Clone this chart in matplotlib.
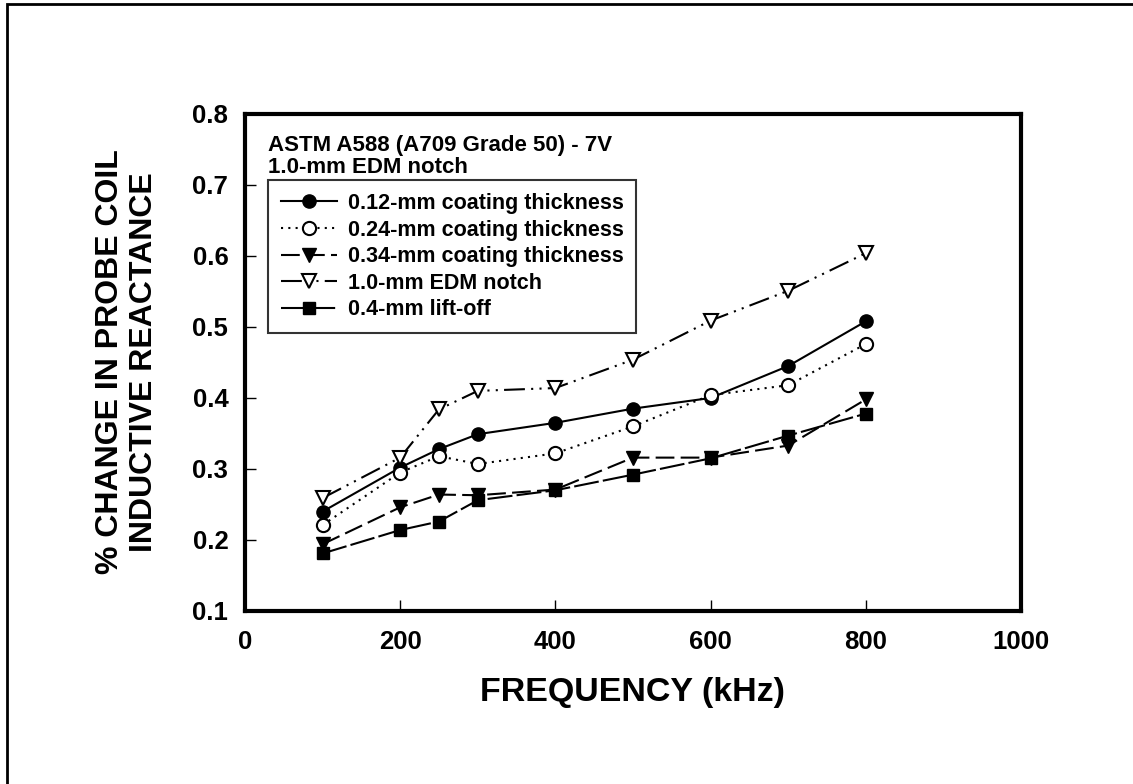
import matplotlib
matplotlib.use('Agg')
import matplotlib.pyplot as plt
from matplotlib.patches import Rectangle

plt.rcParams['font.family'] = ['Liberation Sans', 'DejaVu Sans']
plt.rcParams['font.weight'] = 'bold'

# 数据 (kHz, % change)
freq = [100, 200, 250, 300, 400, 500, 600, 700, 800]
coat_012 = [0.240, 0.302, 0.328, 0.349, 0.365, 0.385, 0.400, 0.445, 0.508]
coat_024 = [0.221, 0.295, 0.318, 0.307, 0.322, 0.360, 0.404, 0.418, 0.476]
coat_034 = [0.194, 0.246, 0.264, 0.263, 0.271, 0.316, 0.316, 0.333, 0.398]
edm_notch = [0.259, 0.316, 0.384, 0.410, 0.414, 0.454, 0.509, 0.551, 0.604]
lift_off = [0.181, 0.214, 0.226, 0.256, 0.270, 0.292, 0.315, 0.347, 0.378]

labels = ['0.12-mm coating thickness', '0.24-mm coating thickness',
          '0.34-mm coating thickness', '1.0-mm EDM notch', '0.4-mm lift-off']
x_ticks = [0, 200, 400, 600, 800, 1000]
y_ticks = [0.1, 0.2, 0.3, 0.4, 0.5, 0.6, 0.7, 0.8]

fig = plt.figure(figsize=(11.33, 7.84), dpi=100)
ax = fig.add_axes([0.2162, 0.2207, 0.685, 0.6339])

lw = 1.5
ax.plot(freq, coat_012, color='black', lw=lw, ls='-', marker='o', ms=9.5,
        mfc='black', mec='black', label=labels[0])
ax.plot(freq, coat_024, color='black', lw=lw, ls=(0, (1, 2.5)), marker='o', ms=9.5,
        mfc='white', mec='black', mew=1.5, label=labels[1])
ax.plot(freq, coat_034, color='black', lw=lw, ls=(0, (9, 3)), marker='v', ms=10.5,
        mfc='black', mec='black', label=labels[2])
ax.plot(freq, edm_notch, color='black', lw=lw, ls=(0, (10, 3, 1, 3, 1, 3)), marker='v', ms=10.5,
        mfc='white', mec='black', mew=1.5, label=labels[3])
ax.plot(freq, lift_off, color='black', lw=lw, ls=(0, (12, 2)), marker='s', ms=9,
        mfc='black', mec='black', label=labels[4])

ax.set_xlim(0, 1000)
ax.set_ylim(0.1, 0.8)
ax.set_xticks(x_ticks)
ax.set_yticks(y_ticks)
ax.set_xticklabels([str(v) for v in x_ticks])
ax.set_yticklabels(['%.1f' % v for v in y_ticks])
ax.tick_params(direction='in', length=8, width=1, labelsize=18.5)
ax.tick_params(axis='x', pad=14)
ax.tick_params(axis='y', pad=12)
for sp in ax.spines.values():
    sp.set_linewidth(3)

ax.text(0.0296, 0.9376, 'ASTM A588 (A709 Grade 50) - 7V', transform=ax.transAxes,
        fontsize=16, fontweight='bold', ha='left', va='center')
ax.text(0.0296, 0.893, '1.0-mm EDM notch', transform=ax.transAxes,
        fontsize=16, fontweight='bold', ha='left', va='center')

leg = ax.legend(loc='upper left', bbox_to_anchor=(0.0296, 0.867), borderaxespad=0,
                fontsize=15.5, handlelength=2.6, handletextpad=0.5, labelspacing=0.26,
                frameon=True, fancybox=False, edgecolor='black', borderpad=0.6)
leg.get_frame().set_linewidth(1.5)
for t in leg.get_texts():
    t.set_fontweight('bold')

fig.text(633 / 1133, 1 - 692 / 784, 'FREQUENCY (kHz)', fontsize=24.5, fontweight='bold',
         ha='center', va='center')
fig.text(127 / 1133, 1 - 362 / 784, '% CHANGE IN PROBE COIL\nINDUCTIVE REACTANCE',
         fontsize=23, fontweight='bold', ha='center', va='center', rotation=90,
         multialignment='center', linespacing=1.15)

# 外框
fig.add_artist(Rectangle((7 / 1133, -0.1), 1.2, 1.1 - 4 / 784, transform=fig.transFigure,
                         fill=False, edgecolor='black', lw=2))

fig.savefig('out.png', dpi=100)
